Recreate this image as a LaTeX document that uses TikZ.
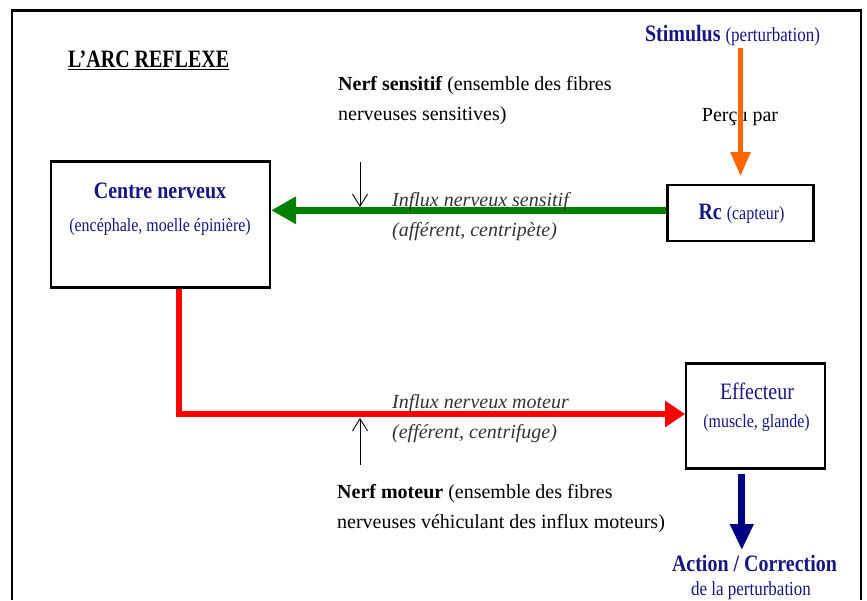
\documentclass[tikz,border=0pt]{standalone}
\usepackage{fontspec}
\setmainfont{Liberation Serif}
\newfontfamily\titleFont[FakeStretch=0.8]{Liberation Serif}
\newfontfamily\blueFont[FakeStretch=0.85]{Liberation Serif}
\usepackage{tikz}
\usetikzlibrary{arrows.meta}
\definecolor{labelBlue}{RGB}{22,22,128}
\definecolor{sensGreen}{RGB}{0,128,0}
\definecolor{motorRed}{RGB}{255,0,0}
\definecolor{stimOrange}{RGB}{255,102,0}
\definecolor{actionBlue}{RGB}{0,0,128}
\newcommand{\sizeMain}{\fontsize{20}{30}\selectfont}
\newcommand{\sizeBig}{\fontsize{23.5}{30}\selectfont}
\newcommand{\sizeMid}{\fontsize{20}{24}\selectfont}
\newcommand{\sizeSmall}{\fontsize{18.8}{22}\selectfont}
\tikzstyle{diagram} = [x = 1pt, y = -1pt]
\tikzstyle{frameLine} = [line width=2.5pt]
\tikzstyle{boxStyle} = [draw=black, line width=2.2pt, inner sep=0pt]
\tikzstyle{plainText} = [inner sep=0pt, font=\sizeMain]
\tikzstyle{blueText} = [inner sep=0pt, text=labelBlue, anchor=base]
\tikzstyle{italicText} = [plainText, font=\sizeMain\itshape, text=black!80]
\tikzstyle{sensArrow} = [draw=sensGreen, line width=7pt, -{Triangle[length=25pt, width=26pt]}]
\tikzstyle{motorArrow} = [draw=motorRed, line width=6pt, -{Triangle[length=20pt, width=25pt]}]
\tikzstyle{stimArrow} = [draw=stimOrange, line width=5pt, -{Triangle[length=24pt, width=19pt]}]
\tikzstyle{actionArrow} = [draw=actionBlue, line width=7pt, -{Triangle[length=26pt, width=22pt]}]
\tikzstyle{tickArrow} = [line width=0.9pt, -{Straight Barb[length=12pt, width=15pt]}]
% two lines of text, left aligned, one under the other
\newcommand{\labelPair}[6]{
  \node [#6, anchor=base west] (#1A) at (#2, #3) {#4};
  \node [#6, anchor=base west] (#1B) at (#2, #3 + 30) {#5};
}

\begin{document}
\begin{tikzpicture}[diagram]
  \useasboundingbox (0,0) rectangle (867,600);
  \draw [frameLine] (12,600) |- (861,10.7) -- (861,600);

  % boxes
  \node [boxStyle, minimum width=219pt, minimum height=126pt] (centre) at (160.5,224.5) {};
  \node [boxStyle, minimum width=146pt, minimum height=56pt] (rc) at (740.5,213.3) {};
  \node [boxStyle, minimum width=139pt, minimum height=105pt] (effecteur) at (755.8,416) {};

  % title
  \node [plainText, anchor=base west, font=\titleFont\fontsize{25}{30}\selectfont\bfseries] (title) at (68,67) {L’ARC REFLEXE};
  \draw [line width=1.3pt] ([yshift=-2.8pt]title.base west) -- ([yshift=-2.8pt]title.base east);

  % stimulus and receptor
  \node [blueText, font=\blueFont\sizeBig] (stimulus) at (732.5,41) {\textbf{Stimulus} {\sizeMid (perturbation)}};
  \node [plainText, anchor=base] (percu) at (740,121) {Perçu par};
  \draw [stimArrow, shorten <=3pt, shorten >=8pt] (stimulus.south -| rc.north) -- (rc.north);
  \node [blueText, font=\blueFont\sizeBig] (rcText) at (741.5,219) {\textbf{Rc} {\sizeSmall (capteur)}};

  % nerve centre
  \node [blueText, font=\blueFont\sizeBig\bfseries] (centreTitle) at (160,198) {Centre nerveux};
  \node [blueText, font=\blueFont\sizeSmall] (centreSub) at (160,231) {(encéphale, moelle épinière)};

  % effector and action
  \node [blueText, font=\blueFont\sizeBig] (effecteurTitle) at (757,399) {Effecteur};
  \node [blueText, font=\blueFont\sizeSmall] (effecteurSub) at (756.5,427) {(muscle, glande)};
  \node [blueText, font=\blueFont\sizeBig\bfseries] (action) at (754.5,571.7) {Action / Correction};
  \node [blueText, font=\blueFont\sizeMid] (actionSub) at (751,595) {de la perturbation};

  % influx
  \draw [sensArrow] ([yshift=3pt]rc.west) -- ([yshift=3pt]rc.west -| centre.east);
  \draw [motorArrow] ([xshift=18pt]centre.south) |- ([yshift=2pt]effecteur.west);
  \draw [actionArrow, shorten >=5pt] ([xshift=-14pt, yshift=-4pt]effecteur.south) -- ([xshift=-14pt]effecteur.south |- action.north);

  \labelPair{nerfSens}{338}{90.7}{\textbf{Nerf sensitif} (ensemble des fibres}{nerveuses sensitives)}{plainText}
  \labelPair{influxSens}{392}{206}{Influx nerveux sensitif}{(afférent, centripète)}{italicText}
  \labelPair{influxMot}{392}{408}{Influx nerveux moteur}{(efférent, centrifuge)}{italicText}
  \labelPair{nerfMot}{337}{498}{\textbf{Nerf moteur} (ensemble des fibres}{nerveuses véhiculant des influx moteurs)}{plainText}

  \coordinate (sensTop) at (360,162);
  \coordinate (sensEnd) at (360,207);
  \coordinate (motBottom) at (360,465);
  \coordinate (motEnd) at (360,418);
  \draw [tickArrow] (sensTop) -- (sensEnd);
  \draw [tickArrow] (motBottom) -- (motEnd);
\end{tikzpicture}
\end{document}
